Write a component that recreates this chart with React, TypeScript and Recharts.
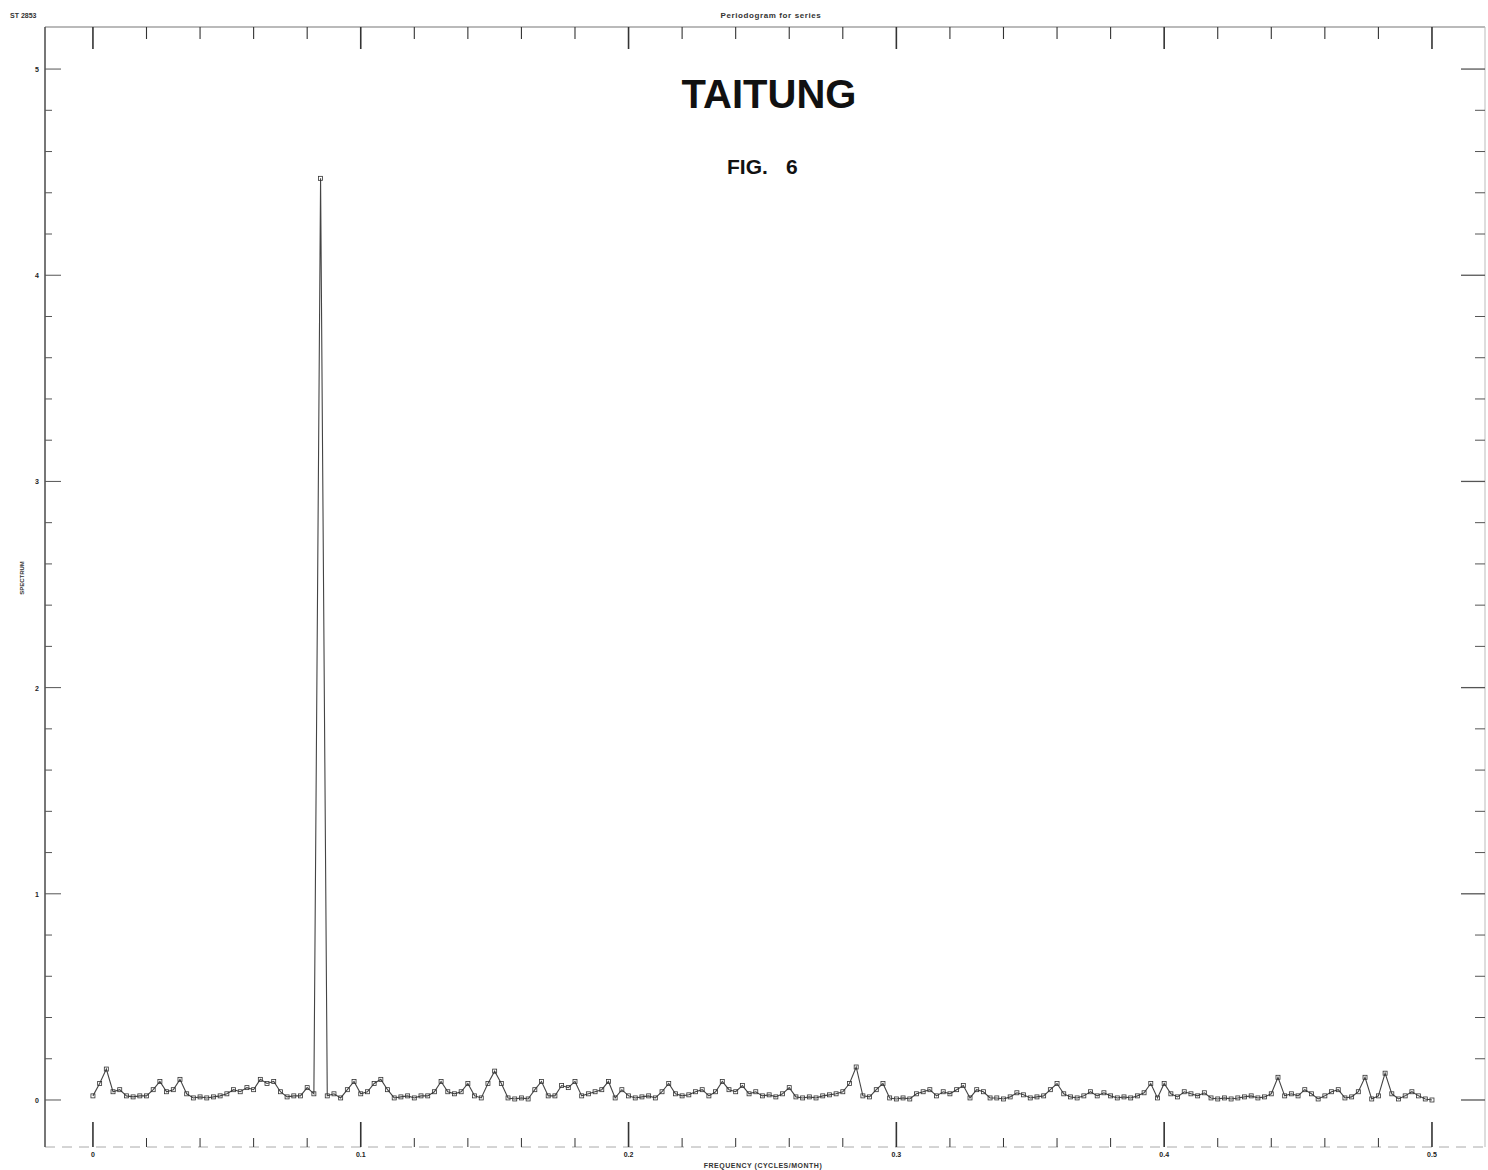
import React from 'react';
import { LineChart, Line, XAxis, YAxis } from 'recharts';

// Frequency grid step (cycles per unit time) and periodogram ordinates
const FREQ_STEP = 0.0025;
const SPECTRUM = [
  0.02, 0.08, 0.15, 0.04, 0.05, 0.02, 0.015, 0.02, 0.02, 0.05,
  0.09, 0.04, 0.05, 0.10, 0.03, 0.01, 0.015, 0.01, 0.015, 0.02,
  0.03, 0.05, 0.04, 0.06, 0.05, 0.10, 0.08, 0.09, 0.04, 0.015,
  0.02, 0.02, 0.06, 0.03, 4.47, 0.02, 0.03, 0.01, 0.05, 0.09,
  0.03, 0.04, 0.08, 0.10, 0.05, 0.01, 0.015, 0.02, 0.01, 0.02,
  0.02, 0.04, 0.09, 0.04, 0.03, 0.04, 0.08, 0.02, 0.01, 0.08,
  0.14, 0.08, 0.01, 0.005, 0.01, 0.005, 0.05, 0.09, 0.02, 0.02,
  0.07, 0.06, 0.09, 0.02, 0.03, 0.04, 0.05, 0.09, 0.01, 0.05,
  0.02, 0.01, 0.015, 0.02, 0.01, 0.04, 0.08, 0.03, 0.02, 0.025,
  0.04, 0.05, 0.02, 0.04, 0.09, 0.05, 0.04, 0.07, 0.03, 0.04,
  0.02, 0.025, 0.015, 0.03, 0.06, 0.015, 0.01, 0.015, 0.01, 0.02,
  0.025, 0.03, 0.04, 0.08, 0.16, 0.02, 0.015, 0.05, 0.08, 0.01,
  0.005, 0.01, 0.005, 0.03, 0.04, 0.05, 0.02, 0.04, 0.03, 0.05,
  0.07, 0.01, 0.05, 0.04, 0.01, 0.01, 0.005, 0.015, 0.035, 0.025,
  0.01, 0.015, 0.02, 0.05, 0.08, 0.03, 0.015, 0.01, 0.02, 0.04,
  0.02, 0.035, 0.02, 0.01, 0.015, 0.01, 0.02, 0.035, 0.08, 0.01,
  0.08, 0.03, 0.015, 0.04, 0.03, 0.02, 0.035, 0.01, 0.005, 0.01,
  0.005, 0.01, 0.015, 0.02, 0.01, 0.015, 0.03, 0.11, 0.02, 0.03,
  0.02, 0.05, 0.03, 0.005, 0.02, 0.04, 0.05, 0.01, 0.015, 0.04,
  0.11, 0.005, 0.02, 0.13, 0.03, 0.005, 0.02, 0.04, 0.02, 0.005,
  0.0,
];

const X_TICKS = [
  0, 0.02, 0.04, 0.06, 0.08, 0.1, 0.12, 0.14, 0.16, 0.18, 0.2, 0.22, 0.24,
  0.26, 0.28, 0.3, 0.32, 0.34, 0.36, 0.38, 0.4, 0.42, 0.44, 0.46, 0.48, 0.5,
];
const X_LABELS = ['0', '0.1', '0.2', '0.3', '0.4', '0.5'];
const Y_TICKS = [
  0, 0.2, 0.4, 0.6, 0.8, 1, 1.2, 1.4, 1.6, 1.8, 2, 2.2, 2.4, 2.6, 2.8, 3,
  3.2, 3.4, 3.6, 3.8, 4, 4.2, 4.4, 4.6, 4.8, 5,
];
const Y_LABELS = ['0', '1', '2', '3', '4', '5'];

const X_DOMAIN: [number, number] = [-0.0179, 0.5198];
const Y_DOMAIN: [number, number] = [-0.228, 5.204];

const data = SPECTRUM.map((v, i) => ({ f: Math.round(i * FREQ_STEP * 10000) / 10000, s: v }));

const isMajor = (v: number, step: number) => Math.abs(v / step - Math.round(v / step)) < 1e-6;

const BottomTick = (props: any) => {
  const { x, y, payload } = props;
  const v = payload.value;
  const major = isMajor(v, 0.1);
  return (
    <g>
      <line x1={x} x2={x} y1={y} y2={y - (major ? 25 : 9)} stroke="#333" strokeWidth={major ? 1.6 : 1} />
      {major && (
        <text x={x} y={y + 10} textAnchor="middle" fontSize={7} fontWeight="bold" fill="#222"
          fontFamily="Liberation Sans, Arial, sans-serif">
          {X_LABELS[Math.round(v * 10)]}
        </text>
      )}
    </g>
  );
};

const TopTick = (props: any) => {
  const { x, y, payload } = props;
  const major = isMajor(payload.value, 0.1);
  return <line x1={x} x2={x} y1={y} y2={y + (major ? 22 : 12)} stroke="#333" strokeWidth={major ? 1.6 : 1.1} />;
};

const LeftTick = (props: any) => {
  const { x, y, payload } = props;
  const v = payload.value;
  const major = isMajor(v, 1);
  return (
    <g>
      <line x1={x} x2={x + (major ? 16 : 7)} y1={y} y2={y} stroke="#555" strokeWidth={1} />
      {major && (
        <text x={x - 6} y={y + 3} textAnchor="end" fontSize={7} fontWeight="bold" fill="#222"
          fontFamily="Liberation Sans, Arial, sans-serif">
          {Y_LABELS[Math.round(v)]}
        </text>
      )}
    </g>
  );
};

const RightTick = (props: any) => {
  const { x, y, payload } = props;
  const major = isMajor(payload.value, 1);
  return <line x1={x} x2={x - (major ? 24 : 10)} y1={y} y2={y} stroke="#555" strokeWidth={major ? 1.3 : 1} />;
};

const Marker = (props: any) => {
  const { cx, cy, index } = props;
  if (cx == null || cy == null) return <g key={index} />;
  return (
    <rect key={index} x={cx - 2} y={cy - 2} width={4} height={4} fill="none" stroke="#333" strokeWidth={0.8} />
  );
};

export default function App() {
  const font = 'Liberation Sans, Arial, Helvetica, sans-serif';
  return (
    <div style={{ position: 'absolute', left: 0, top: 0, width: 1488, height: 1170, background: '#fff' }}>
      <LineChart width={1488} height={1170} data={data} margin={{ top: 26, right: 2, bottom: 22, left: 44 }}>
        <XAxis
          xAxisId="bottom"
          dataKey="f"
          type="number"
          domain={X_DOMAIN}
          ticks={X_TICKS}
          interval={0}
          allowDataOverflow
          height={1}
          tickSize={0}
          tickMargin={0}
          tickLine={false}
          axisLine={{ stroke: '#aaa', strokeDasharray: '10 7' }}
          tick={<BottomTick />}
        />
        <XAxis
          xAxisId="top"
          orientation="top"
          dataKey="f"
          type="number"
          domain={X_DOMAIN}
          ticks={X_TICKS}
          interval={0}
          allowDataOverflow
          height={1}
          tickSize={0}
          tickMargin={0}
          tickLine={false}
          axisLine={{ stroke: '#777', strokeWidth: 1.2 }}
          tick={<TopTick />}
        />
        <YAxis
          yAxisId="left"
          type="number"
          domain={Y_DOMAIN}
          ticks={Y_TICKS}
          interval={0}
          allowDataOverflow
          width={1}
          tickSize={0}
          tickMargin={0}
          tickLine={false}
          axisLine={{ stroke: '#555', strokeWidth: 1.6 }}
          tick={<LeftTick />}
        />
        <YAxis
          yAxisId="right"
          orientation="right"
          type="number"
          domain={Y_DOMAIN}
          ticks={Y_TICKS}
          interval={0}
          allowDataOverflow
          width={1}
          tickSize={0}
          tickMargin={0}
          tickLine={false}
          axisLine={{ stroke: '#bbb', strokeWidth: 1 }}
          tick={<RightTick />}
        />
        <Line
          xAxisId="bottom"
          yAxisId="left"
          type="linear"
          dataKey="s"
          stroke="#444"
          strokeWidth={1.1}
          dot={<Marker />}
          activeDot={false}
          isAnimationActive={false}
        />
      </LineChart>
      <svg width={1488} height={1170} style={{ position: 'absolute', left: 0, top: 0, pointerEvents: 'none' }}>
        <text x={769} y={108} textAnchor="middle" fontSize={40} fontWeight="bold" fill="#111" fontFamily={font}>
          TAITUNG
        </text>
        <text x={727} y={174} fontSize={21} fontWeight="bold" fill="#111" fontFamily={font}>FIG.</text>
        <text x={786} y={174} fontSize={21} fontWeight="bold" fill="#111" fontFamily={font}>6</text>
        <text x={10} y={18} fontSize={7} fontWeight="bold" fill="#333" fontFamily={font}>ST 2853</text>
        <text x={771} y={18} textAnchor="middle" fontSize={8} fontWeight="bold" fill="#333" fontFamily={font}
          letterSpacing={0.6}>
          Periodogram for series
        </text>
        <text x={24} y={578} textAnchor="middle" fontSize={6} fontWeight="bold" fill="#333" fontFamily={font}
          transform="rotate(-90 24 578)">
          SPECTRUM
        </text>
        <text x={763} y={1168} textAnchor="middle" fontSize={7} fontWeight="bold" fill="#333" fontFamily={font}
          letterSpacing={0.5}>
          FREQUENCY (CYCLES/MONTH)
        </text>
      </svg>
    </div>
  );
}
